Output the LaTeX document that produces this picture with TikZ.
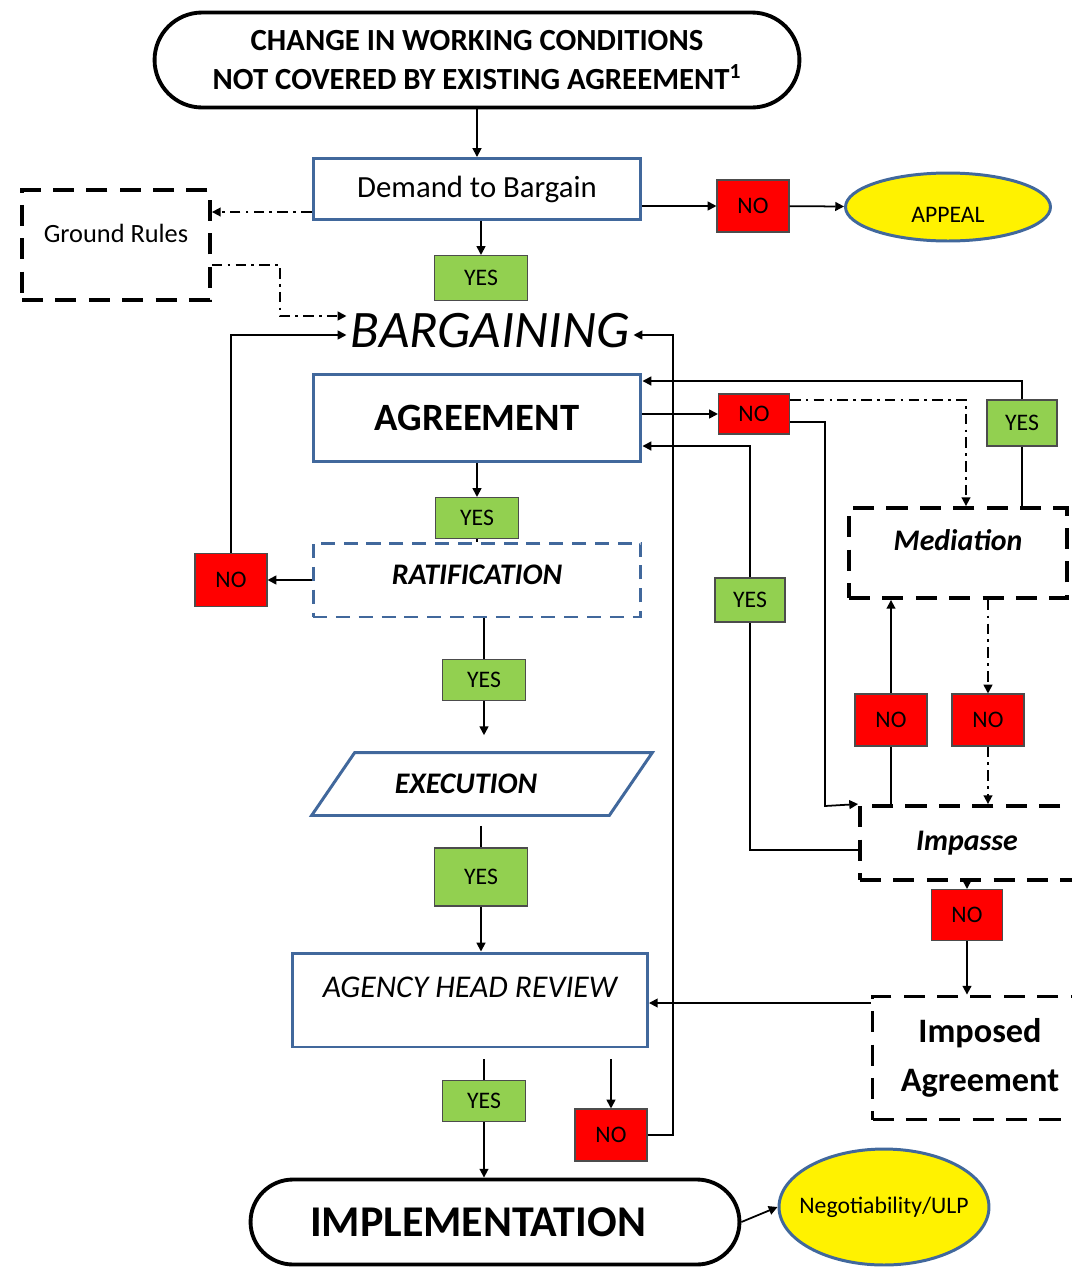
\documentclass[tikz,border=0pt]{standalone}
\usepackage{fontspec}
\setmainfont{Carlito}
\usepackage{tikz}
\usetikzlibrary{shapes.geometric,arrows.meta,positioning,calc}
\definecolor{frameblue}{HTML}{41689C}
\definecolor{yesgreen}{HTML}{92D050}
\newcommand{\fsz}[2]{\fontsize{#1}{#2}\selectfont}

\begin{document}
\begin{tikzpicture}[x=0.02cm, y=-0.02cm, line width=1pt,
    >={Triangle[length=5pt,width=5pt]},
    bluebox/.style={draw=frameblue, line width=1.7pt, fill=white},
    bluedash/.style={draw=frameblue, line width=1.7pt, dash pattern=on 8pt off 5pt},
    blkdash/.style={draw, line width=2.2pt, dash pattern=on 12pt off 7pt},
    nobox/.style={draw=black!70, line width=0.6pt, fill=red, minimum width=1.44cm, minimum height=1.04cm, font=\fsz{13.5}{16}},
    yesbox/.style={draw=black!70, line width=0.6pt, fill=yesgreen, font=\fsz{13.5}{16}},
    oval/.style={ellipse, draw=frameblue, line width=1.7pt, fill=yellow, font=\fsz{13.5}{16}},
    pill/.style={draw, line width=2.2pt, fill=white},
    dashdot/.style={dash pattern=on 6pt off 3pt on 1.5pt off 3pt}]
  \useasboundingbox (0,0) rectangle (1072,1269);

  % Top of the chart
  \node[pill, rounded corners=0.95cm, minimum width=12.9cm, minimum height=1.9cm, align=center,
        font=\fsz{17.5}{22.7}\bfseries] (change) at (477,60)
        {CHANGE IN WORKING CONDITIONS\\NOT COVERED BY EXISTING AGREEMENT\textsuperscript{1}};
  \node[bluebox, minimum width=6.56cm, minimum height=1.22cm, font=\fsz{17.5}{21}] (demand) at (477,189) {Demand to Bargain};
  \node[blkdash, minimum width=3.76cm, minimum height=2.2cm, text depth=0.48cm, font=\fsz{15}{18}] (rules) at (116,245) {Ground Rules};
  \node[nobox] (noappeal) at (753,206) {NO};
  \node[oval, minimum width=4.1cm, minimum height=1.36cm, text height=0.62cm] (appeal) at (948,207) {APPEAL};
  \node[yesbox, minimum width=1.86cm, minimum height=0.9cm] (yesdemand) at (481,278) {YES};
  \node[font=\fsz{30}{36}\itshape, inner sep=2pt] (barg) at (490,331) {BARGAINING};

  % Agreement and ratification
  \node[bluebox, minimum width=6.56cm, minimum height=1.74cm, font=\fsz{22}{26}\bfseries] (agree) at (477,418) {AGREEMENT};
  \node[nobox, minimum width=1.42cm, minimum height=0.8cm] (noagree) at (754,414) {NO};
  \node[yesbox, minimum width=1.66cm, minimum height=0.82cm] (yesagree) at (477,518) {YES};
  \node[bluedash, minimum width=6.56cm, minimum height=1.48cm, text depth=0.2cm, font=\fsz{17}{20}\bfseries\itshape] (ratif) at (477,580) {RATIFICATION};
  \node[nobox, minimum height=1.06cm] (noratif) at (231,580) {NO};
  \node[yesbox, minimum width=1.66cm, minimum height=0.82cm] (yesratif) at (484,680) {YES};
  \node[trapezium, trapezium stretches=true, trapezium left angle=45, trapezium right angle=135, draw=frameblue, line width=1.7pt,
        minimum width=6.82cm, minimum height=1.26cm, font=\fsz{17}{20}\bfseries\itshape] (exec) at (482,784) {EXECUTION\hspace*{0.64cm}};
  \node[yesbox, minimum width=1.86cm, minimum height=1.16cm] (yesexec) at (481,877) {YES};
  \node[bluebox, minimum width=7.1cm, minimum height=1.88cm, text depth=0.52cm, font=\fsz{18}{21}\itshape] (agency) at (470,1000) {AGENCY HEAD REVIEW};
  \node[yesbox, minimum width=1.66cm, minimum height=0.82cm] (yesagency) at (484,1101) {YES};
  \node[nobox] (noagency) at (611,1135) {NO};
  \node[pill, rounded corners=0.85cm, minimum width=9.78cm, minimum height=1.7cm, font=\fsz{25}{30}\bfseries] (impl) at (495,1222) {IMPLEMENTATION\hspace*{0.68cm}};
  \node[oval, minimum width=4.2cm, minimum height=2.32cm, inner xsep=-0.25cm] (nego) at (884,1207) {Negotiability/ULP};

  % Mediation and impasse
  \node[yesbox, minimum width=1.4cm, minimum height=0.92cm] (yesmed) at (1022,423) {YES};
  \node[yesbox, minimum width=1.4cm, minimum height=0.88cm] (yesimp) at (750,600) {YES};
  \node[blkdash, minimum width=4.36cm, minimum height=1.8cm, text depth=0.5cm, font=\fsz{17}{20}\bfseries\itshape] (med) at (958,553) {Mediation};
  \node[nobox] (nomed) at (891,720) {NO};
  \node[nobox] (nomedimp) at (988,720) {NO};
  \node[blkdash, minimum width=4.6cm, minimum height=1.48cm, font=\fsz{17}{20}\bfseries\itshape] (imp) at (975,843) {Impasse\hspace*{0.32cm}};
  \node[nobox, minimum width=1.42cm, minimum height=1.02cm] (noimp) at (967,915) {NO};
  \node[blkdash, minimum width=4.3cm, minimum height=2.46cm, align=center, font=\fsz{19.5}{28}\bfseries] (imposed) at (980,1058) {Imposed\\Agreement};

  % Connectors
  \draw[->] (change.south) -- (demand.north);
  \draw[->] (demand.east |- noappeal) -- (noappeal.west);
  \draw[->] (noappeal) -- (appeal);
  \draw[->, dashdot] (demand.west |- 0,212) -- (rules.east |- 0,212);
  \draw[->] (demand.south -| yesdemand) -- (yesdemand.north);
  \draw[->, dashdot] (rules.east |- 0,265) -| (280,316) -- (barg.west |- 0,316);
  \draw[->] (noratif.north) |- (barg.west |- 0,335);
  \draw[->] (noagency.east) -| (673,335) -- (barg.east |- 0,335);

  \draw[->] (agree.south) -- (yesagree.north);
  \draw (yesagree.south) -- (ratif.north);
  \draw[->] (ratif.west |- noratif) -- (noratif.east);
  \draw (ratif.south -| yesratif) -- (yesratif.north);
  \draw[->, shorten >=9pt] (yesratif.south) -- (exec.north -| yesratif);
  \draw[shorten <=5pt] (exec.south -| yesexec) -- (yesexec.north);
  \draw[->] (yesexec.south) -- (agency.north -| yesexec);
  \draw[shorten <=6pt] (agency.south -| yesagency) -- (yesagency.north);
  \draw[->] (yesagency.south) -- (impl.north -| yesagency);
  \draw[->, shorten <=6pt] (agency.south -| noagency) -- (noagency.north);
  \draw[->] (impl.east) -- (nego.west);

  \draw (med.north -| yesmed) -- (yesmed.south);
  \draw[->] (yesmed.north) |- (agree.east |- 0,381);
  \draw[->] (agree.east |- noagree) -- (noagree.west);
  \draw[->, dashdot] (noagree.east |- 0,400) -| (med.north -| 966,0);
  \draw[->] (noagree.east |- 0,422) -| (825,806) -- (imp.north west);
  \draw (imp.west |- 0,850) -| (yesimp.south);
  \draw[->] (yesimp.north) |- (agree.east |- 0,446);
  \draw (imp.north -| nomed) -- (nomed.south);
  \draw[->] (nomed.north) -- (med.south -| nomed);
  \draw[->, dashdot] (med.south -| nomedimp) -- (nomedimp.north);
  \draw[->, dashdot] (nomedimp.south) -- (imp.north -| nomedimp);
  \draw[->] (imp.south -| noimp) -- (noimp.north);
  \draw[->] (noimp.south) -- (imposed.north -| noimp);
  \draw[->] (imposed.west |- 0,1003) -- (agency.east |- 0,1003);
\end{tikzpicture}
\end{document}
